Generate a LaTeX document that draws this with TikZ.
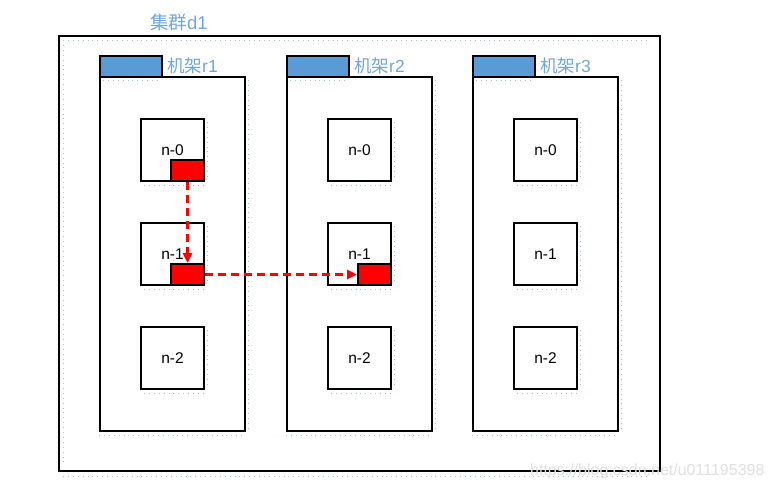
\documentclass[tikz,border=0pt]{standalone}
\usepackage{fontspec}
\setmainfont{Liberation Sans}
\newfontfamily\cjk{Noto Sans CJK SC}
\usetikzlibrary{arrows.meta}
\definecolor{tabblue}{HTML}{5B9BD5}
\definecolor{lblblue}{HTML}{72A6DA}
\definecolor{dotblue}{HTML}{9DC3E6}
\begin{document}
\begin{tikzpicture}[x=1pt,y=-1pt,
  frame/.style={draw=black,line width=2pt},
  tabbox/.style={draw=black,line width=2pt,fill=tabblue},
  nodebox/.style={draw=black,line width=2pt,fill=white,minimum width=63pt,minimum height=62pt,inner sep=0pt,font=\fontsize{15.5}{17}\selectfont},
  redbox/.style={draw=black,line width=2pt,fill=red},
  lbl/.style={text=lblblue,font=\fontsize{17.5}{19}\selectfont,inner sep=0pt,anchor=west},
  dots/.style={draw=dotblue,line width=0.9pt,dash pattern=on 0.9pt off 4pt},
  flow/.style={draw=red,line width=2.8pt,dash pattern=on 8pt off 5pt,-{Triangle[length=10pt,width=9pt]}}
]
\useasboundingbox (0,0) rectangle (774,496);
% cluster
\node[frame,inner sep=0pt,minimum width=601pt,minimum height=435pt,anchor=north west] (d1) at (58,35) {};
\draw[dots] (63,40) -- (650,40);
\draw[dots] (63,476) -- (650,476);
\draw[dots] (63,40) -- (63,465);
\node[lbl,font=\fontsize{18.5}{20}\selectfont] (d1lbl) at (150,22) {\cjk 集群\rmfamily d1};
% racks
\foreach \r/\x in {1/99,2/286,3/472}{
  \node[frame,inner sep=0pt,minimum width=145pt,minimum height=354pt,anchor=north west] (rack\r) at (\x,76) {};
  \draw[dots] (\x+4,80) -- (\x+62,80);
  \draw[dots] (\x,435) -- (\x+145,435);
  \draw[dots] (\x+149,80) -- (\x+149,430);
  \node[tabbox,inner sep=0pt,minimum width=62pt,minimum height=21pt,anchor=north west] (tab\r) at (\x,55) {};
  \node[lbl] (rlbl\r) at (\x+68,66) {\cjk 机架\rmfamily r\r};
  \foreach \n/\y in {0/118,1/222,2/326}{
    \node[nodebox,anchor=north west] (n\r\n) at (\x+41,\y) {n-\n};
    \draw[dots] (\x+45,\y+67) -- (\x+104,\y+67);
    \draw[dots] (\x+108,\y+4) -- (\x+108,\y+62);
  }
}
% red blocks
\node[redbox,inner sep=0pt,minimum width=33pt,minimum height=21pt,anchor=south east] (b10) at (n10.south east) {};
\node[redbox,inner sep=0pt,minimum width=33pt,minimum height=21pt,anchor=south east] (b11) at (n11.south east) {};
\node[redbox,inner sep=0pt,minimum width=33pt,minimum height=21pt,anchor=south east] (b21) at (n21.south east) {};
% flows
\draw[flow] (b10.south) -- (b11.north);
\draw[flow] (b11.east) -- (b21.west);
% watermark
\node[text=black!12,font=\fontsize{16}{18}\selectfont,anchor=west,inner sep=0pt] (wm) at (530,471) {https://blog.csdn.net/u011195398};
\end{tikzpicture}
\end{document}
